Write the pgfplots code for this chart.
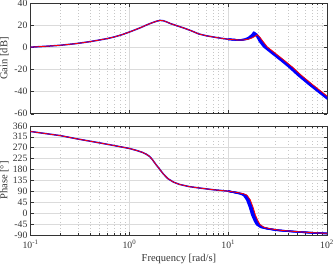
\documentclass[border=0pt]{standalone}
\usepackage{pgfplots}
\pgfplotsset{compat=1.18}
\usepackage{fontspec}
\setmainfont{Liberation Serif}
\definecolor{axc}{gray}{0.2}
\tikzset{
  bl/.style={blue, line width=1.1pt, line join=round},
  rd/.style={red, line width=0.6pt, line join=round},
}
\begin{document}
\begin{tikzpicture}
\begin{axis}[scale only axis, width=220pt, xmode=log, xmin=0.1, xmax=100,
    grid=both,
    major grid style={black!14, line width=0.45pt},
    minor grid style={black!22, dotted, line width=0.4pt},
    minor y tick num=0,
    axis line style={axc, line width=0.5pt},
    tick style={axc, line width=0.4pt},
    major tick length=2.5pt, minor tick length=1.5pt,
    tick pos=both, tick align=inside,
    ticklabel style={font=\fontsize{7.2}{8}\selectfont, text=axc},
    yticklabel style={anchor=east, inner sep=0pt, xshift=-2.2pt},
    label style={font=\fontsize{7.8}{9}\selectfont, text=axc},
    /pgf/number format/assume math mode=true,
    xtick={0.1,1,10,100},
    height=82pt, at={(0,0)}, anchor=south west,
  ymin=-60, ymax=40, ytick={-60,-40,...,40}, xticklabels={},
  ylabel={Gain [dB]},
  ylabel style={at={(axis description cs:0,0.5)}, anchor=center, inner sep=0pt, yshift=19.5pt}]
% blue, low frequency part
\addplot[bl] coordinates {(0.1,0.3)(0.12,0.7)(0.15,1.2)(0.2,2.0)(0.25,2.9)(0.3,3.7)(0.4,5.3)(0.5,6.8)(0.6,8.1)(0.7,9.5)(0.85,11.7)(1.0,14.0)(1.15,16.1)(1.3,18.0)(1.45,19.9)(1.6,21.5)(1.75,22.8)(1.9,23.9)(2.05,24.5)(2.2,24.2)(2.4,23.0)(2.6,21.6)(3.0,19.8)(3.5,17.8)(4.2,15.2)(5.0,12.3)(6.0,10.6)(7.7,8.9)(10,7.4)(12,6.9)};
% blue, high frequency spread
\addplot[bl] coordinates {(10,7.4)(12.87,6.7)(14.68,7.5)(16.13,9.3)(17.49,11.94)(18.12,14.0)(19.32,10.2)(20.66,5.5)(22.83,0.5)(27.54,-5.3)(33.71,-11.5)(41.32,-18)(50.2,-25)(64.3,-33)(78.1,-39)(92.0,-44)(101.5,-47)};
\addplot[bl] coordinates {(10,7.4)(13.15,6.7)(15.0,7.5)(16.48,9.16)(17.87,11.58)(18.52,13.4)(19.74,9.9)(21.11,5.5)(23.34,0.5)(28.15,-5.3)(34.45,-11.5)(42.23,-18)(51.3,-25)(65.7,-33)(79.8,-39)(94.1,-44)(103.7,-47)};
\addplot[bl] coordinates {(10,7.4)(13.43,6.7)(15.32,7.5)(16.83,9.04)(18.25,11.22)(18.91,12.8)(20.16,9.6)(21.56,5.5)(23.83,0.5)(28.74,-5.3)(35.17,-11.5)(43.11,-18)(52.38,-25)(67.13,-33)(81.5,-39)(96.06,-44)(105.9,-47)};
\addplot[bl] coordinates {(10,7.4)(13.71,6.7)(15.64,7.5)(17.19,8.92)(18.63,10.86)(19.31,12.2)(20.58,9.3)(22.01,5.5)(24.33,0.5)(29.35,-5.3)(35.92,-11.5)(44.03,-18)(53.49,-25)(68.55,-33)(83.23,-39)(98.09,-44)(108.1,-47)};
% red nominal
\addplot[rd] coordinates {(0.1,0.3)(0.12,0.7)(0.15,1.2)(0.2,2.0)(0.25,2.9)(0.3,3.7)(0.4,5.3)(0.5,6.8)(0.6,8.1)(0.7,9.5)(0.85,11.7)(1.0,14.0)(1.15,16.1)(1.3,18.0)(1.45,19.9)(1.6,21.5)(1.75,22.8)(1.9,23.9)(2.05,24.5)(2.2,24.2)(2.4,23.0)(2.6,21.6)(3.0,19.8)(3.5,17.8)(4.2,15.2)(5.0,12.3)(6.0,10.6)(7.7,8.9)(10,7.4)(12,6.9)(13.99,6.7)(15.96,7.5)(17.53,8.8)(19.01,10.5)(19.7,11.6)(21.0,9.0)(22.46,5.5)(24.82,0.5)(29.94,-5.3)(36.64,-11.5)(44.92,-18)(54.57,-25)(69.94,-33)(84.91,-39)(100.08,-44)(110.3,-47)};
\end{axis}
\begin{axis}[scale only axis, width=220pt, xmode=log, xmin=0.1, xmax=100,
    grid=both,
    major grid style={black!14, line width=0.45pt},
    minor grid style={black!22, dotted, line width=0.4pt},
    minor y tick num=0,
    axis line style={axc, line width=0.5pt},
    tick style={axc, line width=0.4pt},
    major tick length=2.5pt, minor tick length=1.5pt,
    tick pos=both, tick align=inside,
    ticklabel style={font=\fontsize{7.2}{8}\selectfont, text=axc},
    yticklabel style={anchor=east, inner sep=0pt, xshift=-2.2pt},
    xticklabel style={anchor=north, inner sep=0pt, yshift=-3.5pt},
    label style={font=\fontsize{7.8}{9}\selectfont, text=axc},
    /pgf/number format/assume math mode=true,
    xtick={0.1,1,10,100},
    height=81pt, at={(0,-9pt)}, anchor=north west,
  ymin=-90, ymax=360, ytick={-90,-45,...,360},
  xticklabels={10\textsuperscript{-1},10\textsuperscript{0},10\textsuperscript{1},10\textsuperscript{2}},
  xlabel={Frequency [rad/s]}, ylabel={Phase [°]},
  ylabel style={at={(axis description cs:0,0.5)}, anchor=center, inner sep=0pt, yshift=19.5pt},
  xlabel style={at={(axis description cs:0.5,0)}, anchor=center, inner sep=0pt, yshift=-18pt}]
\addplot[bl] coordinates {(0.1,337)(0.15,327)(0.2,320)(0.3,306)(0.5,290)(0.7,279)(1.0,267)(1.2,258)(1.35,251)(1.47,244)(1.6,234)(1.7,222)(1.86,200)(2.0,184)(2.2,162)(2.44,143)(2.8,128)(3.2,119)(4.0,110)(5.1,104)(7,97)(10,91)(12.5,85)};
\addplot[bl] coordinates {(10,91)(13.16,80)(14.26,74)(15.37,55)(16.38,25)(17.29,-7)(18.39,-32)(19.32,-47)(21.16,-58)(24.37,-64)(30.35,-70)(42.31,-75)(64.38,-80)(91.98,-83)(101.2,-84)};
\addplot[bl] coordinates {(10,91)(13.45,80)(14.58,74)(15.70,55)(16.74,25)(17.67,-7)(18.80,-32)(19.74,-47)(21.63,-58)(24.91,-64)(31.02,-70)(43.24,-75)(65.80,-80)(94.01,-83)(103.4,-84)};
\addplot[bl] coordinates {(10,91)(13.73,80)(14.88,74)(16.04,55)(17.09,25)(18.04,-7)(19.19,-32)(20.16,-47)(22.09,-58)(25.43,-64)(31.67,-70)(44.15,-75)(67.19,-80)(95.99,-83)(105.6,-84)};
\addplot[bl] coordinates {(10,91)(14.02,80)(15.20,74)(16.37,55)(17.46,25)(18.42,-7)(19.60,-32)(20.58,-47)(22.55,-58)(25.97,-64)(32.34,-70)(45.09,-75)(68.61,-80)(98.02,-83)(107.8,-84)};
\addplot[rd] coordinates {(0.1,337)(0.15,327)(0.2,320)(0.3,306)(0.5,290)(0.7,279)(1.0,267)(1.2,258)(1.35,251)(1.47,244)(1.6,234)(1.7,222)(1.86,200)(2.0,184)(2.2,162)(2.44,143)(2.8,128)(3.2,119)(4.0,110)(5.1,104)(7,97)(10,91)(12.5,85)(14.3,80)(15.5,74)(16.7,55)(17.8,25)(18.8,-7)(20,-32)(21,-47)(23,-58)(26.5,-64)(33,-70)(46,-75)(70,-80)(100,-83)(110,-84)};
\end{axis}
\end{tikzpicture}
\end{document}
